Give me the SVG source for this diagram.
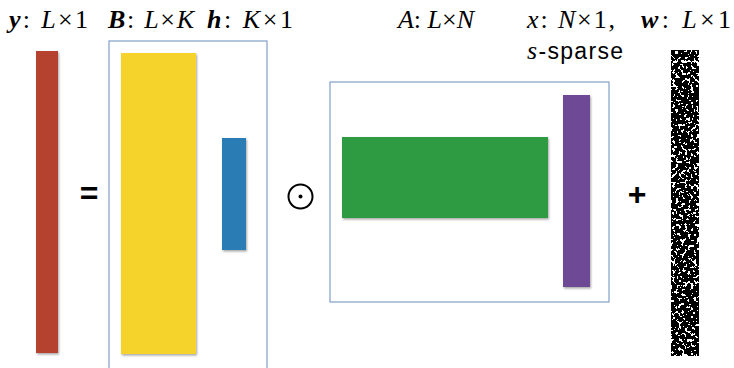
<svg xmlns="http://www.w3.org/2000/svg" width="734" height="368" viewBox="0 0 734 368">
<style>
.m{font-family:"Liberation Serif","DejaVu Serif",serif;font-size:26px;fill:#000}
.i{font-style:italic}
.b{font-weight:bold;font-style:italic}
.s{font-family:"Liberation Sans","Open Sans",sans-serif;font-size:23px;fill:#000}
.box{fill:#fff;stroke:#8aa8cc;stroke-width:1.3}
.bar{filter:url(#sh)}
.op{font-family:"Liberation Sans","DejaVu Sans",sans-serif;font-size:32px;font-weight:bold;fill:#000;text-anchor:middle}
</style>
<defs>
<filter id="sh" x="-20%" y="-5%" width="150%" height="110%">
<feDropShadow dx="1" dy="1.5" stdDeviation="0.8" flood-color="#000" flood-opacity="0.35"/>
</filter>
<filter id="noise" x="0" y="0" width="1" height="1" color-interpolation-filters="sRGB">
<feTurbulence type="fractalNoise" baseFrequency="0.33" numOctaves="2" seed="7" result="t"/>
<feColorMatrix type="matrix" in="t" result="a" values="0 0 0 0 0  0 0 0 0 0  0 0 0 0 0  1 0 0 0 0"/>
<feComponentTransfer in="a" result="c">
<feFuncA type="discrete" tableValues="0 0 0 0 0 0 1 1 1 1"/>
</feComponentTransfer>
<feFlood flood-color="#fff" result="wh"/>
<feComposite in="wh" in2="c" operator="in" result="w"/>
<feFlood flood-color="#000" result="bk"/>
<feComposite in="w" in2="bk" operator="over" result="o"/>
<feGaussianBlur in="o" stdDeviation="0.4" result="o2"/>
<feComposite in="o2" in2="SourceGraphic" operator="in"/>
</filter>
</defs>
<rect width="734" height="368" fill="#fff"/>
<g id="connectors"/>
<g id="label-y"><text class="m" x="9" y="28" textLength="79" lengthAdjust="spacing"><tspan class="b">y</tspan>: <tspan class="i">L</tspan>×1</text></g>
<g id="label-B"><text class="m" x="108" y="28" textLength="86" lengthAdjust="spacing"><tspan class="b">B</tspan>: <tspan class="i">L</tspan>×<tspan class="i">K</tspan></text></g>
<g id="label-h"><text class="m" x="207" y="28" textLength="86" lengthAdjust="spacing"><tspan class="b">h</tspan>: <tspan class="i">K</tspan>×1</text></g>
<g id="label-A"><text class="m" x="398" y="28" textLength="76" lengthAdjust="spacing"><tspan class="i">A</tspan>: <tspan class="i">L</tspan>×<tspan class="i">N</tspan></text></g>
<g id="label-x"><text class="m" x="527" y="28" textLength="88" lengthAdjust="spacing"><tspan class="i">x</tspan>: <tspan class="i">N</tspan>×1,</text>
<text x="527" y="59" textLength="96" lengthAdjust="spacing"><tspan class="m i">s</tspan><tspan class="s">-sparse</tspan></text></g>
<g id="label-w"><text class="m" x="641" y="28" textLength="90" lengthAdjust="spacing"><tspan class="b">w</tspan>: <tspan class="i">L</tspan>×1</text></g>
<g id="y"><rect class="bar" x="36" y="51" width="22" height="302" fill="#b5432f"/></g>
<g id="eq"><text class="op" x="89" y="204">=</text></g>
<g id="Bh">
<rect class="box" x="109" y="41" width="158" height="340"/>
<g id="B"><rect class="bar" x="121" y="53" width="75" height="301" fill="#f6d32a"/></g>
<g id="h"><rect class="bar" x="222" y="138" width="24" height="112" fill="#2b7db4"/></g>
</g>
<g id="had"><circle cx="300.5" cy="196.5" r="12" fill="none" stroke="#000" stroke-width="2"/><circle cx="300.5" cy="196.5" r="2" fill="#000"/></g>
<g id="Ax">
<rect class="box" x="330" y="82" width="279" height="220"/>
<g id="A"><rect class="bar" x="342" y="137" width="206" height="81" fill="#2e9a42"/></g>
<g id="x"><rect class="bar" x="563" y="95" width="27" height="192" fill="#6e4896"/></g>
</g>
<g id="plus"><text class="op" x="637" y="205">+</text></g>
<g id="w"><rect x="671" y="50" width="28" height="306" fill="#000" filter="url(#noise)"/></g>
</svg>
